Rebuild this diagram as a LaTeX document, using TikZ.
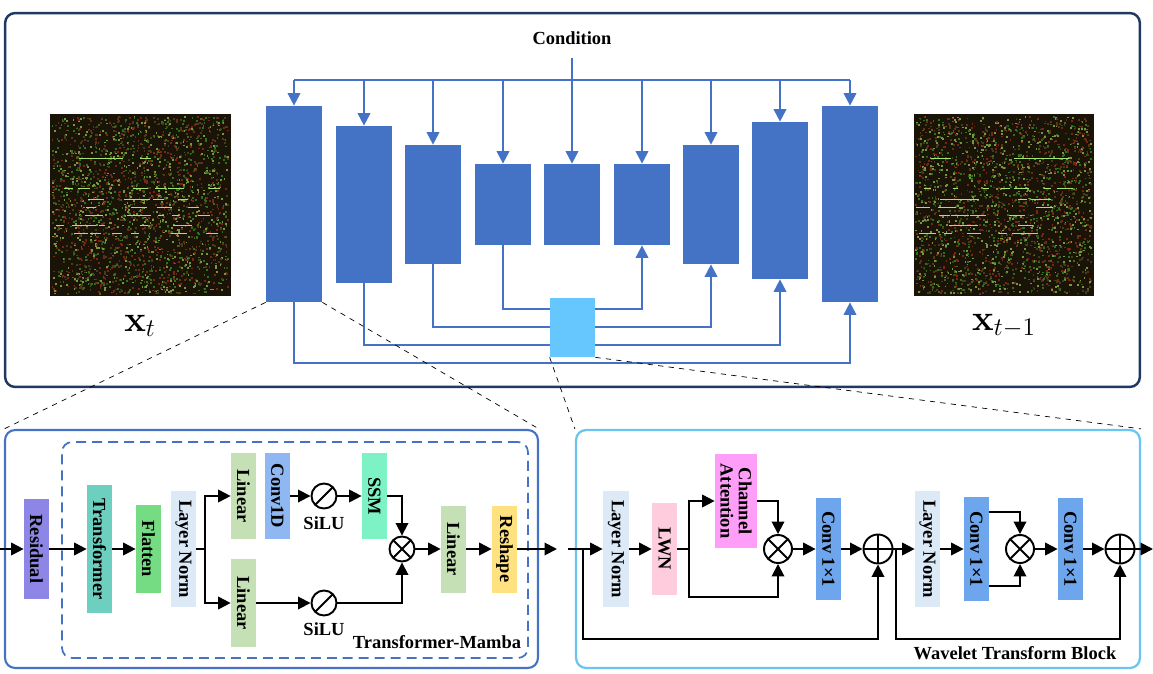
\documentclass[tikz,border=0pt]{standalone}
\usepackage[no-math]{fontspec}
\setmainfont{Liberation Serif}
\usepackage{amsmath}
\usepackage{tikz}
\usetikzlibrary{arrows.meta, calc}

\definecolor{unetc}{HTML}{4472C4}
\definecolor{midc}{HTML}{66C7FF}
\definecolor{navyc}{HTML}{1F3864}
\definecolor{rightc}{HTML}{6CC5F0}
\definecolor{resc}{HTML}{8E86E6}
\definecolor{trfc}{HTML}{6DCFC0}
\definecolor{fltc}{HTML}{76DC84}
\definecolor{lnc}{HTML}{DCE9F7}
\definecolor{linc}{HTML}{C6E0B5}
\definecolor{cdc}{HTML}{8FB8F3}
\definecolor{ssmc}{HTML}{7DF2C4}
\definecolor{rshc}{HTML}{FFE17F}
\definecolor{lwnc}{HTML}{FFCCDD}
\definecolor{cac}{HTML}{FF9EF8}
\definecolor{cvc}{HTML}{6EA6EE}
\definecolor{noisebg}{HTML}{1A1408}

\begin{document}
\begin{tikzpicture}[x=0.02cm, y=-0.02cm,
    >={Triangle[length=0.25cm,width=0.25cm]},
    lbl/.style={font=\fontsize{10.5}{12}\selectfont\bfseries},
    blk/.style={inner sep=0pt, minimum width=0.5cm, align=center,
        font=\fontsize{10.5}{12}\selectfont\bfseries},
    unet/.style={fill=unetc, minimum width=1.12cm, inner sep=0pt},
    uline/.style={unetc, line width=1.1pt},
    flow/.style={black, line width=1.1pt},
    zoomline/.style={black, dashed, thin},
    silu/.style={circle, draw, line width=1.1pt, minimum size=0.5cm, inner sep=0pt,
        path picture={\draw[line width=1.1pt] (path picture bounding box.south west) -- (path picture bounding box.north east);}},
    mul/.style={circle, draw, line width=1.1pt, minimum size=0.5cm, inner sep=0pt,
        path picture={\draw[line width=1.1pt] (path picture bounding box.south west) -- (path picture bounding box.north east)
            (path picture bounding box.north west) -- (path picture bounding box.south east);}},
    add/.style={circle, draw, line width=1.1pt, minimum size=0.58cm, inner sep=0pt,
        path picture={\draw[line width=1.1pt] (path picture bounding box.north) -- (path picture bounding box.south)
            (path picture bounding box.west) -- (path picture bounding box.east);}},
    noise/.style={fill=noisebg, minimum width=3.62cm, minimum height=3.64cm, inner sep=0pt},
    dot0/.style={fill={rgb,255:red,120;green,38;blue,20}},
    dot1/.style={fill={rgb,255:red,50;green,110;blue,30}},
    dot2/.style={fill={rgb,255:red,120;green,150;blue,60}},
    dot3/.style={fill={rgb,255:red,70;green,60;blue,25}},
    noteline/.style={draw={rgb,255:red,165;green,225;blue,115}, line width=0.5pt}]

    \useasboundingbox (0,0) rectangle (1153,673);

    % Draw the outer boxes
    \node[draw=navyc, line width=1.4pt, rounded corners=0.2cm, minimum width=22.7cm, minimum height=7.48cm] (top) at (572.5,200) {};
    \node[draw=unetc, line width=1.2pt, rounded corners=0.2cm, minimum width=10.66cm, minimum height=4.76cm] (boxA) at (271.5,549) {};
    \node[draw=unetc, dashed, dash pattern=on 0.2cm off 0.12cm, line width=1pt, rounded corners=0.2cm, minimum width=9.32cm, minimum height=4.32cm] (tmb) at (295,550) {};
    \node[draw=rightc, line width=1.3pt, rounded corners=0.2cm, minimum width=11.28cm, minimum height=4.76cm] (boxB) at (858,549) {};

    % Draw the noisy inputs
    \pgfmathsetseed{7}
    \foreach \ix/\nm in {140.5/imga, 1004/imgb} {
        \node[noise] (\nm) at (\ix,205) {};
        \foreach \k in {1,...,2200} {
            \pgfmathsetmacro{\px}{\ix-89+176*rnd}
            \pgfmathsetmacro{\py}{116+177*rnd}
            \pgfmathsetmacro{\pc}{int(4*rnd)}
            \fill[dot\pc] (\px,\py) rectangle ++(1.8,1.8);
        }
        \foreach \ry in {158,188,199,207,215,225,233} {
            \foreach \j in {1,...,7} {
                \pgfmathsetmacro{\dx}{\ix-89+160*rnd}
                \pgfmathsetmacro{\dl}{5+12*rnd}
                \draw[noteline] (\dx,\ry) -- ++(\dl,0);
            }
        }
    }
    \node[font=\fontsize{21}{24}\selectfont] (xt) at (140,326) {$\mathbf{x}_t$};
    \node[font=\fontsize{21}{24}\selectfont] (xtm) at (1004,326) {$\mathbf{x}_{t-1}$};

    % Draw the U-Net blocks
    \foreach \n/\x/\y/\h in {1/294/204/196, 2/364/204.5/157, 3/433/204.5/119, 4/503/204.5/81,
        5/572/204.5/81, 6/642/204.5/81, 7/711/204.5/119, 8/780/200.5/157, 9/850/204/196} {
        \node[unet, minimum height=\h*0.02cm] (u\n) at (\x,\y) {};
    }

    % Condition bus
    \node[lbl] (cond) at (572,38) {Condition};
    \coordinate (cin) at (572,58);
    \coordinate (busL) at (294,80);
    \coordinate (busR) at (850,80);
    \draw[uline] (busL) -- (busR);
    \draw[uline, ->] (cin) -- (u5.north);
    \foreach \n in {1,2,3,4,6,7,8,9} {
        \draw[uline, ->] (u\n.north |- busL) -- (u\n.north);
    }

    % Skip connections
    \draw[uline, ->] (u4.south) -- ++(0,64) -| (u6.south);
    \draw[uline, ->] (u3.south) -- ++(0,63) -| (u7.south);
    \draw[uline, ->] (u2.south) -- ++(0,62) -| (u8.south);
    \draw[uline, ->] (u1.south) -- ++(0,61) -| (u9.south);
    \node[fill=midc, minimum width=0.9cm, minimum height=1.18cm, inner sep=0pt] (mid) at (572.5,327.5) {};

    % Zoom lines
    \draw[zoomline] (u1.south west) -- (boxA.north west);
    \draw[zoomline] (u1.south east) -- (boxA.north east);
    \draw[zoomline] (mid.south west) -- (boxB.north west);
    \draw[zoomline] (mid.south east) -- (boxB.north east);

    % Transformer-Mamba blocks
    \node[blk, fill=resc, minimum height=2cm] (res) at (36.5,549) {\rotatebox{-90}{Residual}};
    \node[blk, fill=trfc, minimum height=2.56cm] (trf) at (99.5,549) {\rotatebox{-90}{Transformer}};
    \node[blk, fill=fltc, minimum height=1.76cm] (flt) at (148.5,549) {\rotatebox{-90}{Flatten}};
    \node[blk, fill=lnc, minimum height=2.32cm] (ln1) at (183.5,549) {\rotatebox{-90}{Layer Norm}};
    \node[blk, fill=linc, minimum height=1.74cm] (lin1) at (243.5,496) {\rotatebox{-90}{Linear}};
    \node[blk, fill=cdc, minimum height=1.74cm] (c1d) at (277.5,496) {\rotatebox{-90}{Conv1D}};
    \node[blk, fill=linc, minimum height=1.76cm] (lin2) at (243.5,603) {\rotatebox{-90}{Linear}};
    \node[blk, fill=ssmc, minimum height=1.74cm] (ssm) at (374.5,496) {\rotatebox{-90}{SSM}};
    \node[blk, fill=linc, minimum height=1.74cm] (lin3) at (453.5,549) {\rotatebox{-90}{Linear}};
    \node[blk, fill=rshc, minimum height=1.74cm] (rsh) at (504.5,549) {\rotatebox{-90}{Reshape}};
    \node[silu] (silu1) at (324,496) {};
    \node[silu] (silu2) at (324,603) {};
    \node[lbl] (sl1) at (324,523) {SiLU};
    \node[lbl] (sl2) at (324,629) {SiLU};
    \node[mul] (mul1) at (402,549) {};
    \node[lbl] (tmlbl) at (437,642) {Transformer-Mamba};

    % Transformer-Mamba connectors
    \coordinate (inL) at (0,549);
    \coordinate (outL) at (557,549);
    \draw[flow, ->] (inL) -- (res);
    \draw[flow, ->] (res) -- (trf);
    \draw[flow, ->] (trf) -- (flt);
    \draw[flow] (ln1.east) -- ++(9,0) coordinate (sp1);
    \draw[flow, ->] (sp1) |- (lin1);
    \draw[flow, ->] (sp1) |- (lin2);
    \draw[flow, ->] (c1d) -- (silu1);
    \draw[flow, ->] (silu1) -- (ssm);
    \draw[flow, ->] (ssm) -| (mul1);
    \draw[flow, ->] (lin2) -- (silu2);
    \draw[flow, ->] (silu2) -| (mul1);
    \draw[flow, ->] (mul1) -- (lin3);
    \draw[flow, ->] (lin3) -- (rsh);
    \draw[flow, ->] (rsh) -- (outL);

    % Wavelet Transform blocks
    \node[blk, fill=lnc, minimum width=0.52cm, minimum height=2.32cm] (ln2) at (616,549) {\rotatebox{-90}{Layer Norm}};
    \node[blk, fill=lwnc, minimum height=1.84cm] (lwn) at (664.5,549) {\rotatebox{-90}{LWN}};
    \node[blk, fill=cac, minimum width=0.84cm, minimum height=1.88cm] (ca) at (736,501) {\rotatebox{-90}{\shortstack{Channel\\Attention}}};
    \node[mul, minimum size=0.56cm] (mul2) at (778,549) {};
    \node[blk, fill=cvc, minimum height=2.06cm] (cv1) at (828.5,549) {\rotatebox{-90}{Conv 1×1}};
    \node[add] (add1) at (878,549) {};
    \node[blk, fill=lnc, minimum height=2.32cm] (ln3) at (927.5,549) {\rotatebox{-90}{Layer Norm}};
    \node[blk, fill=cvc, minimum height=2.08cm] (cv2) at (976.5,549) {\rotatebox{-90}{Conv 1×1}};
    \node[mul, minimum size=0.56cm] (mul3) at (1020,549) {};
    \node[blk, fill=cvc, minimum height=2.06cm] (cv3) at (1070.5,549) {\rotatebox{-90}{Conv 1×1}};
    \node[add] (add2) at (1120,549) {};
    \node[lbl] (wtlbl) at (1015,653) {Wavelet Transform Block};

    % Wavelet Transform connectors
    \coordinate (inR) at (568,549);
    \coordinate (sk1) at (583,549);
    \coordinate (sk2) at (896,549);
    \coordinate (outR) at (1153,549);
    \draw[flow, ->] (inR) -- (ln2);
    \draw[flow, ->] (sk1) -- ++(0,90) -| (add1);
    \draw[flow, ->] (ln2) -- (lwn);
    \draw[flow] (lwn.east) -- ++(12,0) coordinate (sp2);
    \draw[flow, ->] (sp2) |- (ca);
    \draw[flow, ->] (sp2) -- ++(0,48) -| (mul2);
    \draw[flow, ->] (ca) -| (mul2);
    \draw[flow, ->] (mul2) -- (cv1);
    \draw[flow, ->] (cv1) -- (add1);
    \draw[flow, ->] (add1) -- (ln3);
    \draw[flow, ->] (sk2) -- ++(0,90) -| (add2);
    \draw[flow, ->] (ln3) -- (cv2);
    \draw[flow, ->] ([yshift=0.74cm]cv2.east) -| (mul3);
    \draw[flow, ->] ([yshift=-0.74cm]cv2.east) -| (mul3);
    \draw[flow, ->] (mul3) -- (cv3);
    \draw[flow, ->] (cv3) -- (add2);
    \draw[flow, ->] (add2) -- (outR);

\end{tikzpicture}
\end{document}
